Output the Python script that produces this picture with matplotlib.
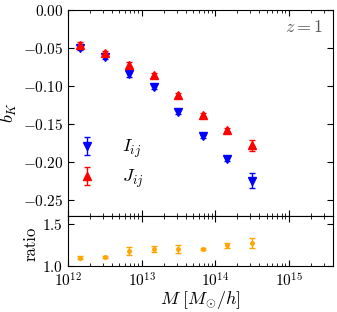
import numpy as np
import matplotlib
matplotlib.use("Agg")
import matplotlib.pyplot as plt
from matplotlib.ticker import FuncFormatter, FixedLocator, LogLocator, NullFormatter

# halo mass bins [M_sun/h]
mass = [1.47e12, 3.16e12, 6.81e12, 1.47e13, 3.16e13, 6.81e13, 1.47e14, 3.16e14]

# b_K from the two estimators
b_I = [-0.050, -0.062, -0.085, -0.101, -0.134, -0.166, -0.196, -0.224]
b_I_err = [0.003, 0.003, 0.003, 0.003, 0.003, 0.002, 0.003, 0.010]
b_J = [-0.046, -0.057, -0.072, -0.086, -0.112, -0.138, -0.158, -0.178]
b_J_err = [0.003, 0.003, 0.003, 0.003, 0.003, 0.002, 0.003, 0.007]

# ratio panel
ratio = [1.10, 1.11, 1.18, 1.20, 1.20, 1.20, 1.245, 1.27]
ratio_err = [0.015, 0.015, 0.045, 0.035, 0.045, 0.01, 0.025, 0.06]

plt.rcParams["font.family"] = "serif"
plt.rcParams["font.serif"] = ["cmr10", "DejaVu Serif"]
plt.rcParams["mathtext.fontset"] = "cm"
plt.rcParams["axes.formatter.use_mathtext"] = True

fig = plt.figure(figsize=(3.37, 3.12), dpi=100)
ax = fig.add_axes([0.202, 0.309, 0.786, 0.660])
axr = fig.add_axes([0.202, 0.147, 0.786, 0.162], sharex=ax)

ax.errorbar(mass, b_I, yerr=b_I_err, fmt="v", color="blue", ms=5.5, capsize=2.5,
            elinewidth=1, label=r"$I_{ij}$")
ax.errorbar(mass, b_J, yerr=b_J_err, fmt="^", color="red", ms=5.5, capsize=2.5,
            elinewidth=1, label=r"$J_{ij}$")

axr.errorbar(mass, ratio, yerr=ratio_err, fmt="o", color="orange", ms=2.5,
             capsize=2.5, elinewidth=1)

ax.set_xscale("log")
ax.set_xlim(1e12, 4e15)
ax.set_ylim(-0.27, 0.0)
ax.yaxis.set_major_locator(FixedLocator([0.0, -0.05, -0.10, -0.15, -0.20, -0.25]))
ax.yaxis.set_major_formatter(FuncFormatter(lambda v, p: r"$%.2f$" % v))
ax.set_ylabel(r"$b_K$", fontsize=13)
ax.yaxis.set_label_coords(-0.185, 0.5)
plt.setp(ax.get_xticklabels(), visible=False)

axr.set_ylim(1.0, 1.6)
axr.yaxis.set_major_locator(FixedLocator([1.0, 1.5]))
axr.yaxis.set_major_formatter(FuncFormatter(lambda v, p: r"$%.1f$" % v))
axr.set_ylabel("ratio", fontsize=12)
axr.yaxis.set_label_coords(-0.11, 0.45)
axr.set_xlabel(r"$M\ [M_{\odot}/h]$", fontsize=13, labelpad=0)
axr.xaxis.set_major_locator(LogLocator(base=10, numticks=10))
axr.xaxis.set_minor_locator(LogLocator(base=10, subs=np.arange(2, 10), numticks=10))
axr.xaxis.set_minor_formatter(NullFormatter())

for a in (ax, axr):
    a.tick_params(which="both", direction="in", top=True, right=True, labelsize=11)
    a.tick_params(which="major", length=4, width=0.8)
    a.tick_params(which="minor", length=2, width=0.6)

ax.text(0.965, 0.955, r"$z = 1$", transform=ax.transAxes, ha="right", va="top",
        fontsize=13, color="#555555")

ax.legend(loc="lower left", bbox_to_anchor=(-0.01, 0.07), frameon=False,
          fontsize=13, handlelength=1.2, handletextpad=1.35, labelspacing=0.45,
          borderaxespad=0.2)

fig.savefig("out.png", dpi=100)
